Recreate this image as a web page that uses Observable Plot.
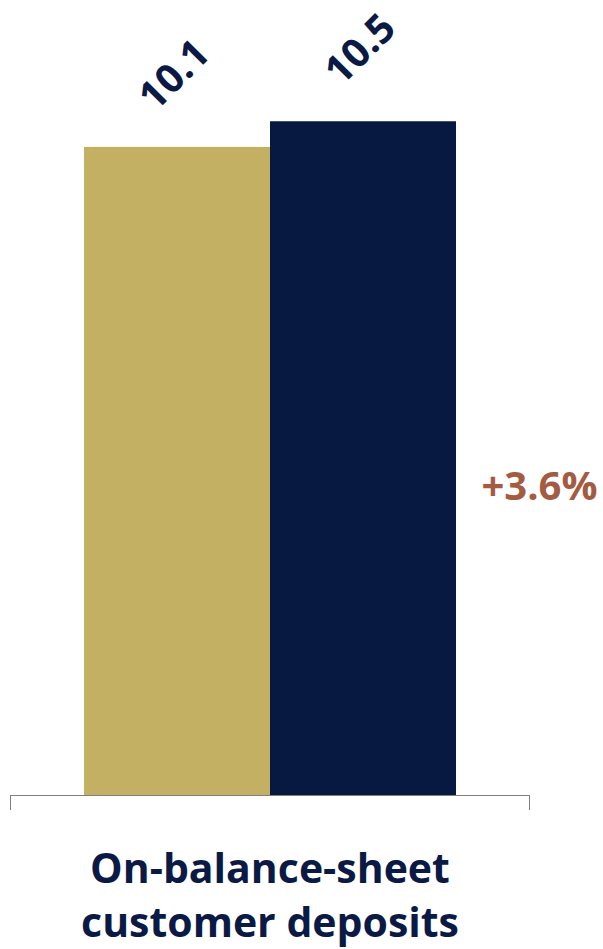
<!DOCTYPE html>
<html>
<head>
<meta charset="utf-8">
<script src="https://cdn.jsdelivr.net/npm/d3@7"></script>
<script src="https://cdn.jsdelivr.net/npm/@observablehq/plot@0.6"></script>
<style>
  html, body { margin: 0; padding: 0; background: #ffffff; }
  #chart svg { display: block; }
</style>
</head>
<body>
<div id="chart"></div>
<script>
const categories = ["On-balance-sheet\ncustomer deposits"];
const series = ["Prior", "Current"];
const values = [10.1, 10.5];
const valueLabels = ["10.1", "10.5"];
const changeLabels = ["+3.6%"];
const seriesColors = ["#C3B063", "#081941"];

const navy = "#0B1A45";
const brown = "#A35C42";

const data = series.map((s, i) => ({
  category: categories[0],
  series: s,
  value: values[i],
  label: valueLabels[i]
}));

const chart = Plot.plot({
  width: 603,
  height: 949,
  marginLeft: 10,
  marginRight: 74,
  marginTop: 25,
  marginBottom: 154,
  style: { fontFamily: "'Open Sans', sans-serif", color: navy, background: "#ffffff" },
  fx: { domain: categories, padding: 0, label: null },
  x: { domain: series, paddingInner: 0, paddingOuter: 0.395, axis: null },
  y: { domain: [0, 12], axis: null },
  color: { domain: series, range: seriesColors },
  marks: [
    Plot.barY(data, { fx: "category", x: "series", y: "value", fill: "series" }),
    Plot.ruleY([0], { stroke: "#7f7f7f", strokeWidth: 1 }),
    Plot.text(data, {
      fx: "category", x: "series", y: "value", text: "label",
      rotate: -45, dx: -3, dy: -72, fontSize: 40, fontWeight: 700, fill: navy,
      textAnchor: "middle", lineAnchor: "middle", letterSpacing: 3
    }),
    Plot.text(changeLabels, {
      text: d => d, frameAnchor: "right", textAnchor: "end",
      dx: 68, dy: 77, fontSize: 40, fontWeight: 700, fill: brown, letterSpacing: 2
    }),
    Plot.axisFx({
      anchor: "bottom", tickSize: 0, tickPadding: 50, fontSize: 41,
      fontWeight: 700, lineHeight: 1.3, label: null, color: navy
    })
  ]
});

// category boundary ticks at the ends of the axis line, placed with the plot's own scales
const fxScale = chart.scale("fx");
const yScale = chart.scale("y");
const left = fxScale.apply(categories[0]);
const right = left + fxScale.bandwidth;
const y0 = yScale.apply(0);
d3.select(chart).append("g")
  .attr("stroke", "#7f7f7f")
  .selectAll("line")
  .data([left, right])
  .join("line")
  .attr("x1", d => d + 0.5)
  .attr("x2", d => d + 0.5)
  .attr("y1", y0)
  .attr("y2", y0 + 15);

document.getElementById("chart").append(chart);
</script>
</body>
</html>
